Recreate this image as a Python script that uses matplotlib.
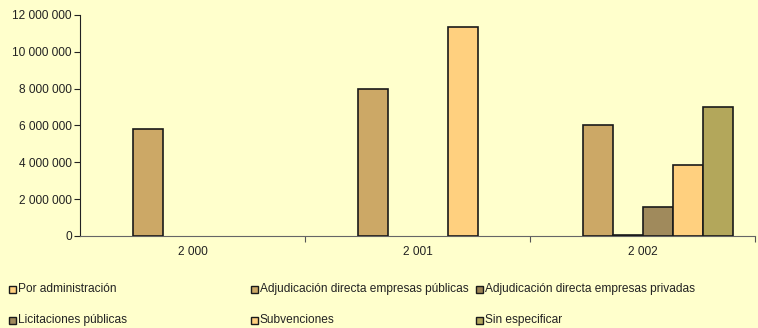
import numpy as np
import matplotlib.pyplot as plt
from matplotlib.patches import Rectangle
from matplotlib.ticker import FuncFormatter

plt.rcParams['font.family'] = ['Liberation Sans', 'DejaVu Sans']

years = ['2 000', '2 001', '2 002']
series = ['Por administración',
          'Adjudicación directa empresas públicas',
          'Adjudicación directa empresas privadas',
          'Licitaciones públicas',
          'Subvenciones',
          'Sin especificar']
por_admin = [0, 0, 0]
adj_publicas = [5800000, 7980000, 6040000]
adj_privadas = [0, 0, 40000]
licitaciones = [0, 0, 1600000]
subvenciones = [0, 11350000, 3830000]
sin_especificar = [0, 0, 6980000]
colors = ['#FFD080', '#CCA866', '#9C8455', '#A08A5C', '#FFD07F', '#B3A75B']

values = [por_admin, adj_publicas, adj_privadas, licitaciones, subvenciones, sin_especificar]
bg = '#FFFFCC'
fs = 8.6

fig = plt.figure(figsize=(7.58, 3.28), dpi=100, facecolor=bg)
ax = fig.add_axes([80/758, 1-236/328, 675/758, 221/328])
ax.set_facecolor(bg)

x = np.arange(len(years))
w = 0.8 / 6
for i, (vals, c) in enumerate(zip(values, colors)):
    # empty bars get no outline, like the original
    lw = [1.2 if v else 0 for v in vals]
    ax.bar(x + (i - 2.5) * w, vals, width=w, color=c, edgecolor='#1a1a1a',
           linewidth=lw, zorder=3)

ax.set_xlim(-0.5, 2.5)
ax.set_ylim(0, 12000000)
ax.set_yticks(np.arange(0, 12000001, 2000000))
ax.yaxis.set_major_formatter(FuncFormatter(lambda v, p: f'{int(v):,}'.replace(',', ' ')))
ax.set_xticks([0.5, 1.5, 2.5])
ax.set_xticklabels([])
ax.set_xticks(x, minor=True)
ax.set_xticklabels(years, minor=True)
ax.tick_params(axis='x', which='minor', length=0, pad=7, labelsize=fs, labelcolor='#222222')
ax.tick_params(axis='x', which='major', length=4, color='#555555', direction='out')
ax.tick_params(axis='y', length=4, pad=2, labelsize=fs, labelcolor='#222222', color='#222222')
for s in ['top', 'right']:
    ax.spines[s].set_visible(False)
ax.spines['left'].set_color('#222222')
ax.spines['bottom'].set_color('#666666')

# legend laid out in a 3x2 grid like the original
col_x = [9, 251, 476]
row_y = [289, 320]
for i, (name, c) in enumerate(zip(series, colors)):
    r, col = divmod(i, 3)
    px, py = col_x[col], row_y[r]
    fig.patches.append(Rectangle((px/758, 1-(py+4)/328), 7/758, 7/328,
                                 transform=fig.transFigure, facecolor=c,
                                 edgecolor='#1a1a1a', linewidth=1.0))
    fig.text((px+9)/758, 1-py/328, name, fontsize=fs, va='center', ha='left',
             color='#222222')

fig.savefig('out.png', dpi=100, facecolor=bg)
